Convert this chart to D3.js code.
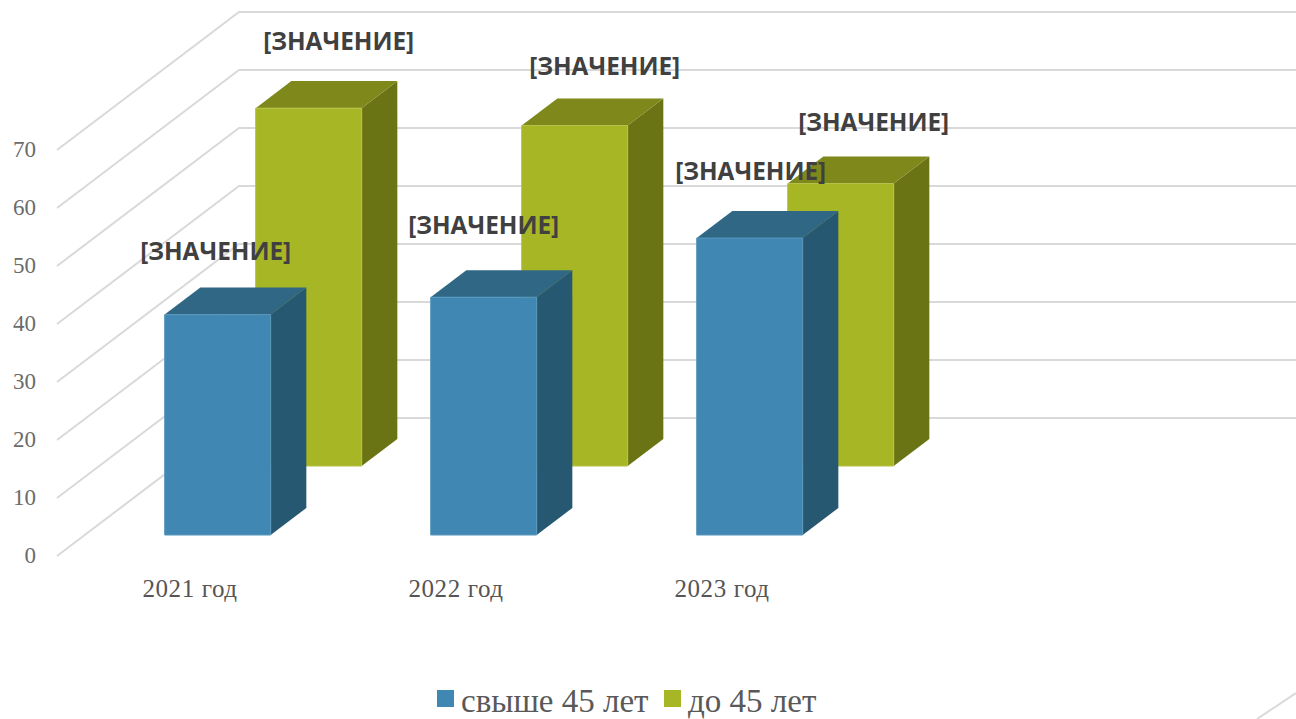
<!DOCTYPE html>
<html>
<head>
<meta charset="utf-8">
<script src="https://cdnjs.cloudflare.com/ajax/libs/d3/7.8.5/d3.min.js"></script>
<style>
  html, body { margin: 0; background: #fff; }
  svg { display: block; }
  .tick-y text { font-family: "Liberation Serif", serif; font-size: 23px; fill: #6b6b6b; }
  .tick-x text { font-family: "Liberation Serif", serif; font-size: 25px; fill: #555; letter-spacing: 0.6px; }
  .value-label { font-family: "Open Sans", sans-serif; font-weight: 700; font-size: 25px; fill: #404040; }
  .legend text { font-family: "Liberation Serif", serif; font-size: 33px; fill: #595959; }
</style>
</head>
<body>
<svg></svg>
<script>
const SVG_WIDTH = 1296;
const SVG_HEIGHT = 719;

// The chart data. The fourth category is empty in the original.
const categories = ['2021 год', '2022 год', '2023 год', ''];
const seriesNames = ['свыше 45 лет', 'до 45 лет'];
const over45 = [38, 41, 51.2];
const under45 = [61.7, 58.7, 48.7];
const yTicks = [0, 10, 20, 30, 40, 50, 60, 70];
const valueLabel = '[ЗНАЧЕНИЕ]';

// Fake 3D: going from the front plane to the back wall moves by this much.
const DEPTH_X = 182;
const DEPTH_Y = -138;

// Where each series sits between front (0) and back (1).
const depthBand = d3.scaleBand().domain([0, 1]).range([0, 1]).paddingInner(0.608).paddingOuter(0.304);

const x = d3.scaleBand().domain(categories).range([57, 57 + 266 * 4]);
const y = d3.scaleLinear().domain([0, 70]).range([556, 150]);
const BAR_WIDTH = 106;

const colors = [
  {front: '#4087b3', side: '#275872', top: '#2f6785', edge: '#5a97bd'},
  {front: '#a7b624', side: '#6b7415', top: '#7f881a', edge: '#b5c24a'}
];

// Data labels were dragged by hand in the original, so each one has its own nudge.
const labelNudges = [
  [[-2, -64], [0, -72], [1, -67]],
  [[30, -67], [30, -60], [33, -62]]
];

const svg = d3
  .select('svg')
  .attr('height', SVG_HEIGHT)
  .attr('width', SVG_WIDTH)
  .attr('viewBox', `0 0 ${SVG_WIDTH} ${SVG_HEIGHT}`);

// Project a point in (px along x, value, depth) to the screen.
function project(px, value, depth) {
  return [px + DEPTH_X * depth, y(value) + DEPTH_Y * depth];
}

function polygon(points) {
  return 'M' + points.map(p => p.join(',')).join('L') + 'Z';
}

// Gridlines run along the left wall, then along the back wall.
svg
  .append('g')
  .selectAll('path')
  .data(yTicks)
  .enter()
  .append('path')
  .attr('fill', 'none')
  .attr('stroke', '#d9d9d9')
  .attr('stroke-width', 2)
  .attr('d', d => {
    const a = project(x.range()[0], d, 0);
    const b = project(x.range()[0], d, 1);
    return `M${a}L${b}H${SVG_WIDTH}`;
  });

// Piece of the chart frame that pokes in at the bottom right corner.
svg
  .append('line')
  .attr('x1', 1257)
  .attr('y1', SVG_HEIGHT)
  .attr('x2', SVG_WIDTH)
  .attr('y2', 693)
  .attr('stroke', '#d9d9d9')
  .attr('stroke-width', 2);

function drawSeries(values, index) {
  const g = svg.append('g');
  const d0 = depthBand(index);
  const d1 = d0 + depthBand.bandwidth();
  values.forEach((value, i) => {
    const left = x(categories[i]) + (x.bandwidth() - BAR_WIDTH) / 2;
    const right = left + BAR_WIDTH;
    const color = colors[index];
    g.append('path')
      .attr('fill', color.side)
      .attr('d', polygon([project(right, 0, d0), project(right, 0, d1), project(right, value, d1), project(right, value, d0)]));
    g.append('path')
      .attr('fill', color.top)
      .attr('d', polygon([project(left, value, d0), project(right, value, d0), project(right, value, d1), project(left, value, d1)]));
    g.append('path')
      .attr('fill', color.front)
      .attr('stroke', color.edge)
      .attr('stroke-width', 1)
      .attr('d', polygon([project(left, 0, d0), project(right, 0, d0), project(right, value, d0), project(left, value, d0)]));
  });
}

// Back series first so the front one covers it.
drawSeries(under45, 1);
drawSeries(over45, 0);

// Axes only supply the tick text here.
const yAxis = svg
  .append('g')
  .attr('class', 'tick-y')
  .attr('transform', 'translate(57,-0.5)')
  .call(d3.axisLeft(y).tickValues(yTicks).tickSize(0).tickPadding(21));
yAxis.select('.domain').remove();

const xAxis = svg
  .append('g')
  .attr('class', 'tick-x')
  .attr('transform', 'translate(0,579)')
  .call(d3.axisBottom(x).tickSize(0).tickPadding(0));
xAxis.select('.domain').remove();

// Value labels go on top of everything.
[over45, under45].forEach((values, s) => {
  const d0 = depthBand(s);
  values.forEach((value, i) => {
    const [px, py] = project(x(categories[i]) + x.bandwidth() / 2, value, d0);
    svg
      .append('text')
      .attr('class', 'value-label')
      .attr('text-anchor', 'middle')
      .attr('textLength', 151)
      .attr('lengthAdjust', 'spacingAndGlyphs')
      .attr('x', px + labelNudges[s][i][0])
      .attr('y', py + labelNudges[s][i][1] + 9)
      .text(valueLabel);
  });
});

// Legend.
const legend = svg.append('g').attr('class', 'legend');
const legendX = [437, 664];
seriesNames.forEach((name, i) => {
  legend
    .append('rect')
    .attr('x', legendX[i])
    .attr('y', 690)
    .attr('width', 17)
    .attr('height', 17)
    .attr('fill', colors[i].front);
  legend
    .append('text')
    .attr('x', legendX[i] + 24)
    .attr('y', 712)
    .text(name);
});
</script>
</body>
</html>
